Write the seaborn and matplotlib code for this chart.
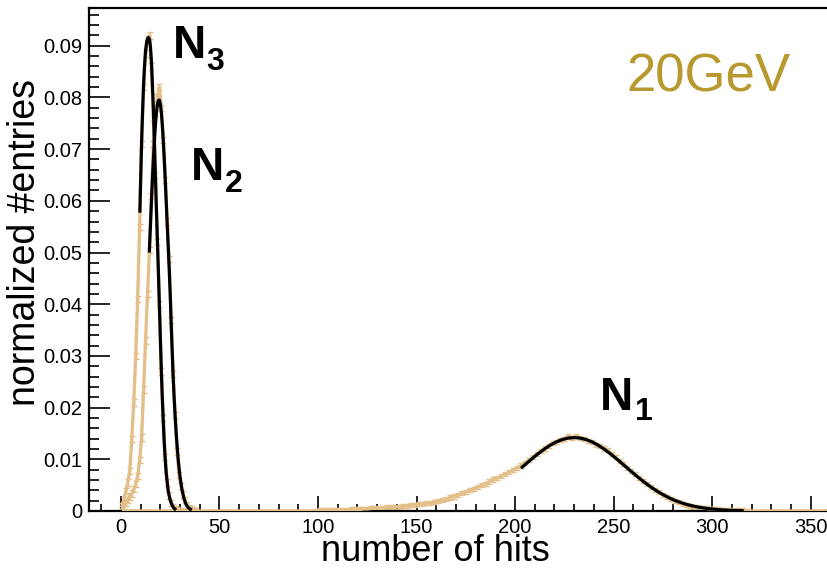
import matplotlib
matplotlib.use("Agg")
import matplotlib.pyplot as plt
from matplotlib.ticker import MultipleLocator, FixedLocator
import seaborn as sns
import pandas as pd

# ---------------- data ----------------
# N3 histogram (bin centres, normalized entries)
n3_x = [0.5, 1.5, 2.5, 3.5, 4.5, 5.5, 6.5, 7.5, 8.5, 9.5, 10.5, 11.5, 12.5, 13.5, 14.5,
        15.5, 16.5, 17.5, 18.5, 19.5, 20.5, 21.5, 22.5, 23.5, 24.5, 25.5, 26.5, 27.5,
        28.5, 29.5, 30.5]
n3_y = [0.0010, 0.0022, 0.0038, 0.0055, 0.0078, 0.0140, 0.0210, 0.0300, 0.0410, 0.0550,
        0.0710, 0.0820, 0.0885, 0.0912, 0.0920, 0.0860, 0.0760, 0.0650, 0.0520, 0.0400,
        0.0270, 0.0180, 0.0105, 0.0055, 0.0030, 0.0015, 0.0007, 0.0003, 0.0001, 0.0, 0.0]

# N2 histogram
n2_x = [0.5, 1.5, 2.5, 3.5, 4.5, 5.5, 6.5, 7.5, 8.5, 9.5, 10.5, 11.5, 12.5, 13.5, 14.5,
        15.5, 16.5, 17.5, 18.5, 19.5, 20.5, 21.5, 22.5, 23.5, 24.5, 25.5, 26.5, 27.5,
        28.5, 29.5, 30.5, 31.5, 32.5, 33.5, 34.5, 35.5, 36.5, 37.5]
n2_y = [0.0003, 0.0008, 0.0015, 0.0022, 0.0028, 0.0034, 0.0042, 0.0052, 0.0068, 0.0098,
        0.0142, 0.0235, 0.0330, 0.0420, 0.0505, 0.0610, 0.0710, 0.0770, 0.0800, 0.0820,
        0.0780, 0.0718, 0.0640, 0.0560, 0.0487, 0.0370, 0.0265, 0.0185, 0.0115, 0.0070,
        0.0048, 0.0032, 0.0022, 0.0012, 0.0006, 0.0003, 0.0001, 0.0]

# N1 histogram (2-hit bins, zero outside)
n1_x = [0.5, 99, 101, 103, 105, 107, 109, 111, 113, 115, 117, 119, 121, 123, 125, 127, 129,
        131, 133, 135, 137, 139, 141, 143, 145, 147, 149, 151, 153, 155, 157, 159,
        161, 163, 165, 167, 169, 171, 173, 175, 177, 179, 181, 183, 185, 187, 189,
        191, 193, 195, 197, 199, 201, 203, 205, 207, 209, 211, 213, 215, 217, 219,
        221, 223, 225, 227, 229, 231, 233, 235, 237, 239, 241, 243, 245, 247, 249,
        251, 253, 255, 257, 259, 261, 263, 265, 267, 269, 271, 273, 275, 277, 279,
        281, 283, 285, 287, 289, 291, 293, 295, 297, 299, 301, 303, 305, 307, 309,
        311, 313, 315, 317, 359.5]
n1_y = [0.0, 0.0, 0.0001, 0.0001, 0.0001, 0.0001, 0.0002, 0.0002, 0.0002, 0.0002, 0.0003,
        0.0003, 0.0003, 0.0004, 0.0004, 0.0005, 0.0005, 0.0006, 0.0006, 0.0007, 0.0007,
        0.0008, 0.0008, 0.0009, 0.0010, 0.0011, 0.0012, 0.0013, 0.0014, 0.0015, 0.0016,
        0.0017, 0.0019, 0.0021, 0.0023, 0.0026, 0.0028, 0.0031, 0.0034, 0.0037, 0.0040,
        0.0043, 0.0046, 0.0050, 0.0053, 0.0057, 0.0061, 0.0064, 0.0067, 0.0071, 0.0075,
        0.0079, 0.0084, 0.0088, 0.0093, 0.0098, 0.0104, 0.0110, 0.0116, 0.0121, 0.0126,
        0.0131, 0.0134, 0.0138, 0.0140, 0.0144, 0.0142, 0.0145, 0.0141, 0.0140, 0.0136,
        0.0134, 0.0128, 0.0126, 0.0121, 0.0118, 0.0111, 0.0104, 0.0097, 0.0091, 0.0084,
        0.0077, 0.0071, 0.0064, 0.0058, 0.0052, 0.0046, 0.0041, 0.0036, 0.0031, 0.0027,
        0.0023, 0.0020, 0.0017, 0.0014, 0.0012, 0.0010, 0.0008, 0.0007, 0.0006, 0.0005,
        0.0004, 0.0003, 0.0003, 0.0002, 0.0002, 0.0001, 0.0001, 0.0001, 0.0001, 0.0, 0.0]

# statistical error bar half-heights
n3_err = 0.0006
n2_err = 0.0006
n1_err = 0.0004

# fitted curves (black)
fit3_x = [9.6, 10, 10.5, 11, 11.5, 12, 12.5, 13, 13.5, 14, 14.5, 15, 15.5, 16, 16.5, 17,
          17.5, 18, 18.5, 19, 19.5, 20, 20.5, 21, 21.5, 22, 22.5, 23, 24, 25, 26, 27, 28]
fit3_y = [0.0577, 0.0640, 0.0715, 0.0775, 0.0825, 0.0863, 0.0890, 0.0906, 0.0914, 0.0916,
          0.0912, 0.0897, 0.0868, 0.0823, 0.0773, 0.0711, 0.0648, 0.0585, 0.0525, 0.0465,
          0.0400, 0.0335, 0.0272, 0.0218, 0.0172, 0.0130, 0.0098, 0.0072, 0.0038, 0.0021,
          0.0011, 0.0005, 0.0002]

fit2_x = [14.4, 15, 15.5, 16, 16.5, 17, 17.5, 18, 18.5, 19, 19.5, 20, 20.5, 21, 21.5, 22,
          22.5, 23, 23.5, 24, 24.5, 25, 25.5, 26, 26.5, 27, 27.5, 28, 28.5, 29, 29.5, 30,
          31, 32, 33, 34, 35, 36]
fit2_y = [0.0500, 0.0555, 0.0600, 0.0643, 0.0682, 0.0717, 0.0747, 0.0770, 0.0786, 0.0794,
          0.0795, 0.0787, 0.0771, 0.0747, 0.0716, 0.0680, 0.0640, 0.0597, 0.0553, 0.0510,
          0.0468, 0.0420, 0.0362, 0.0310, 0.0260, 0.0219, 0.0184, 0.0153, 0.0126, 0.0103,
          0.0083, 0.0066, 0.0041, 0.0024, 0.0013, 0.0007, 0.0004, 0.0002]

fit1_x = [203, 206, 209, 212, 215, 218, 221, 224, 227, 230, 233, 236, 239, 242, 245, 248,
          251, 254, 257, 260, 263, 266, 269, 272, 275, 278, 281, 284, 287, 290, 293, 296,
          299, 302, 305, 308, 311, 314, 316]
fit1_y = [0.00828, 0.00927, 0.01025, 0.01117, 0.01202, 0.01277, 0.01338, 0.01383, 0.01411,
          0.01420, 0.01411, 0.01383, 0.01338, 0.01277, 0.01202, 0.01117, 0.01025, 0.00927,
          0.00828, 0.00730, 0.00635, 0.00545, 0.00461, 0.00385, 0.00318, 0.00258, 0.00207,
          0.00164, 0.00128, 0.00099, 0.00075, 0.00057, 0.00042, 0.00031, 0.00022, 0.00016,
          0.00011, 0.00008, 0.00006]

xticks = [0, 50, 100, 150, 200, 250, 300, 350]
xtick_labels = ["0", "50", "100", "150", "200", "250", "300", "350"]
yticks = [0, 0.01, 0.02, 0.03, 0.04, 0.05, 0.06, 0.07, 0.08, 0.09]
ytick_labels = ["0", "0.01", "0.02", "0.03", "0.04", "0.05", "0.06", "0.07", "0.08", "0.09"]

x_label = "number of hits"
y_label = "normalized #entries"
energy_label = "20GeV"

# ---------------- styling ----------------
sns.set_style("ticks")
plt.rcParams["font.family"] = ["Liberation Sans", "DejaVu Sans"]
for key in ["text.color", "axes.labelcolor", "xtick.color", "ytick.color", "axes.edgecolor"]:
    plt.rcParams[key] = "black"

TAN = "#e3bf8a"
GOLD = "#b8992f"

W, H = 827, 569
fig = plt.figure(figsize=(W / 100, H / 100), dpi=100)
ax = fig.add_axes([89 / W, 1 - 511 / H, (830 - 89) / W, (511 - 7.5) / H])

hists = [(n1_x, n1_y, n1_err), (n2_x, n2_y, n2_err), (n3_x, n3_y, n3_err)]
for hx, hy, he in hists:
    ax.errorbar(hx, hy, yerr=he, fmt="none", ecolor=TAN, elinewidth=1.0,
                capsize=2.5, capthick=1.0, zorder=2)
    df = pd.DataFrame({"x": hx, "y": hy})
    sns.lineplot(data=df, x="x", y="y", ax=ax, color=TAN, lw=2.4,
                 estimator=None, zorder=3, solid_capstyle="butt")

for fx, fy in [(fit3_x, fit3_y), (fit2_x, fit2_y), (fit1_x, fit1_y)]:
    df = pd.DataFrame({"x": fx, "y": fy})
    sns.lineplot(data=df, x="x", y="y", ax=ax, color="black", lw=2.3,
                 estimator=None, zorder=5, solid_capstyle="butt")

ax.set_xlim(-16.2, 359.8)
ax.set_ylim(0, 0.0974)
ax.set_xlabel("")
ax.set_ylabel("")

ax.xaxis.set_major_locator(FixedLocator(xticks))
ax.set_xticklabels(xtick_labels)
ax.xaxis.set_minor_locator(MultipleLocator(10))
ax.yaxis.set_major_locator(FixedLocator(yticks))
ax.set_yticklabels(ytick_labels)
ax.yaxis.set_minor_locator(MultipleLocator(0.002))

ax.tick_params(axis="x", which="major", direction="in", length=11, width=1.2,
               labelsize=14.5, pad=5, top=False, color="black", labelcolor="black")
ax.tick_params(axis="x", which="minor", direction="in", length=5.3, width=1.2,
               top=False, color="black")
ax.tick_params(axis="y", which="major", direction="in", length=15, width=1.2,
               labelsize=14.5, pad=5, right=False, color="black", labelcolor="black")
ax.tick_params(axis="y", which="minor", direction="in", length=7.5, width=1.2,
               right=False, color="black")
for s in ax.spines.values():
    s.set_linewidth(1.6)
    s.set_color("black")
ax.spines["right"].set_visible(False)

# axis titles
fig.text(435 / W, 1 - 561 / H, x_label, ha="center", va="baseline", fontsize=26,
         color="black")
fig.text(25 / W, 1 - 242 / H, y_label, ha="center", va="center", rotation=90,
         fontsize=27, color="black")

# energy label
fig.text(626 / W, 1 - 92 / H, energy_label, ha="left", va="baseline", fontsize=38, color=GOLD)

# peak labels: (N left, N baseline, sub left, sub baseline, sub text)
peak_labels = [(176, 58, 207, 70, "3"), (194, 180, 226, 192, "2"), (603, 410, 636, 420, "1")]
for nx, ny, sx, sy, sub in peak_labels:
    fig.text((nx - 3) / W, 1 - ny / H, "N", ha="left", va="baseline",
             fontsize=33, fontweight="bold", color="black")
    fig.text((sx - 1) / W, 1 - sy / H, sub, ha="left", va="baseline",
             fontsize=23, fontweight="bold", color="black")

fig.savefig("out.png", dpi=100)
